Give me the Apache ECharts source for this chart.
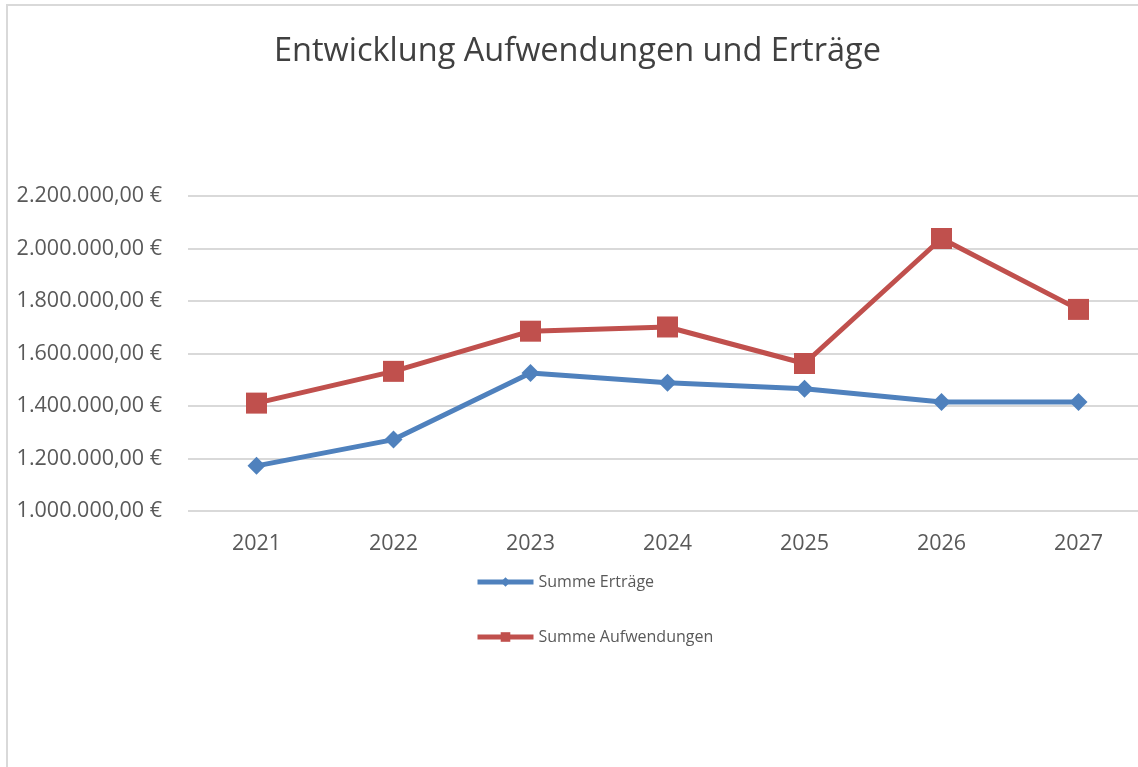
<!DOCTYPE html>
<html>
<head>
<meta charset="utf-8">
<script src="https://cdn.jsdelivr.net/npm/echarts@6/dist/echarts.min.js"></script>
<style>html,body{margin:0;padding:0;background:#fff;}#c{width:1138px;height:767px;}</style>
</head>
<body>
<div id="c"></div>
<script>
var years = ['2021','2022','2023','2024','2025','2026','2027'];
var ertraege = [1172000, 1272000, 1526000, 1489000, 1466000, 1415000, 1415000];
var aufwendungen = [1411000, 1532000, 1685000, 1701000, 1562000, 2038000, 1768000];
var chartTitle = 'Entwicklung Aufwendungen und Erträge';
var seriesNames = ['Summe Erträge', 'Summe Aufwendungen'];

function fmt(v){
  var s = Math.round(v).toString().replace(/\B(?=(\d{3})+(?!\d))/g, '.');
  return s + ',00 €';
}

var chart = echarts.init(document.getElementById('c'));
var font = 'Open Sans';
chart.setOption({
  backgroundColor: '#fff',
  animation: false,
  graphic: [{
    type: 'rect', shape: {x: 7, y: 5, width: 1140, height: 770},
    style: {fill: 'none', stroke: '#d9d9d9', lineWidth: 2}, silent: true
  }],
  title: {
    text: chartTitle, left: 269, top: 30,
    textStyle: {fontFamily: font, fontSize: 32.5, fontWeight: 'normal', color: '#404040'}
  },
  grid: {left: 188, width: 959, top: 196, height: 315, containLabel: false, outerBoundsMode: 'none'},
  xAxis: {
    type: 'category', data: years, boundaryGap: true,
    axisLine: {show: false}, axisTick: {show: false},
    axisLabel: {fontFamily: font, fontSize: 21.5, color: '#595959', margin: 22}
  },
  yAxis: {
    type: 'value', min: 1000000, max: 2200000, interval: 200000,
    axisLine: {show: false}, axisTick: {show: false},
    splitLine: {lineStyle: {color: '#d9d9d9', width: 2}},
    axisLabel: {fontFamily: font, fontSize: 21.5, color: '#595959', margin: 26, formatter: fmt}
  },
  legend: {
    orient: 'vertical', left: 470, top: 569, itemGap: 39,
    itemWidth: 56, itemHeight: 12,
    textStyle: {fontFamily: font, fontSize: 16, color: '#595959'},
    data: [
      {name: seriesNames[0], itemStyle: {color: '#4F81BD'}, lineStyle: {width: 5}},
      {name: seriesNames[1], itemStyle: {color: '#C0504D'}, lineStyle: {width: 5}}
    ]
  },
  series: [{
    name: seriesNames[0], type: 'line', data: ertraege,
    symbol: 'diamond', symbolSize: 18,
    lineStyle: {color: '#4F81BD', width: 5},
    itemStyle: {color: '#4F81BD'}
  }, {
    name: seriesNames[1], type: 'line', data: aufwendungen,
    symbol: 'rect', symbolSize: 21,
    lineStyle: {color: '#C0504D', width: 5},
    itemStyle: {color: '#C0504D'}
  }]
});
</script>
</body>
</html>
